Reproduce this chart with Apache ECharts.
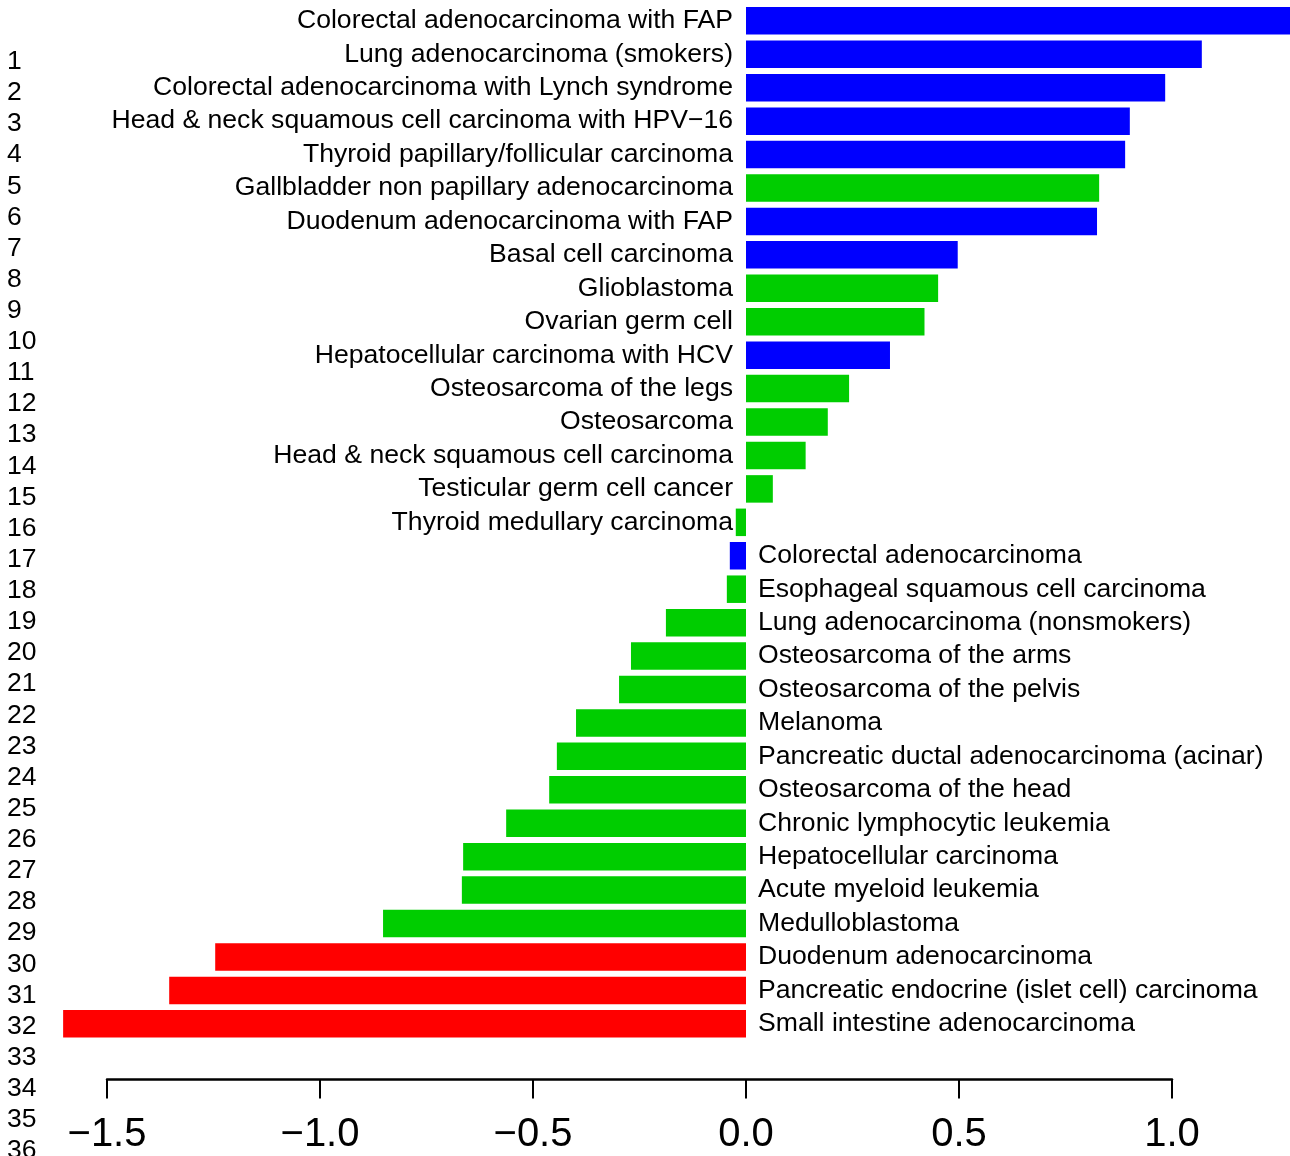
<!DOCTYPE html>
<html>
<head>
<meta charset="utf-8">
<script src="https://cdn.jsdelivr.net/npm/echarts@6/dist/echarts.min.js"></script>
<style>
html,body{margin:0;padding:0;background:#fff;}
#chart{width:1290px;height:1156px;}
</style>
</head>
<body>
<div id="chart"></div>
<script>
const categories = [
  "Colorectal adenocarcinoma with FAP",
  "Lung adenocarcinoma (smokers)",
  "Colorectal adenocarcinoma with Lynch syndrome",
  "Head & neck squamous cell carcinoma with HPV\u221216",
  "Thyroid papillary/follicular carcinoma",
  "Gallbladder non papillary adenocarcinoma",
  "Duodenum adenocarcinoma with FAP",
  "Basal cell carcinoma",
  "Glioblastoma",
  "Ovarian germ cell",
  "Hepatocellular carcinoma with HCV",
  "Osteosarcoma of the legs",
  "Osteosarcoma",
  "Head & neck squamous cell carcinoma",
  "Testicular germ cell cancer",
  "Thyroid medullary carcinoma",
  "Colorectal adenocarcinoma",
  "Esophageal squamous cell carcinoma",
  "Lung adenocarcinoma (nonsmokers)",
  "Osteosarcoma of the arms",
  "Osteosarcoma of the pelvis",
  "Melanoma",
  "Pancreatic ductal adenocarcinoma (acinar)",
  "Osteosarcoma of the head",
  "Chronic lymphocytic leukemia",
  "Hepatocellular carcinoma",
  "Acute myeloid leukemia",
  "Medulloblastoma",
  "Duodenum adenocarcinoma",
  "Pancreatic endocrine (islet cell) carcinoma",
  "Small intestine adenocarcinoma"
];
const values = [
  1.29, 1.070, 0.984, 0.901, 0.890, 0.829, 0.824, 0.497, 0.451, 0.419,
  0.338, 0.242, 0.192, 0.140, 0.063, -0.024, -0.038, -0.045, -0.188, -0.270,
  -0.298, -0.399, -0.444, -0.462, -0.563, -0.664, -0.667, -0.852, -1.246, -1.354,
  -1.603
];
const groups = [
  "B","B","B","B","B","G","B","B","G","G",
  "B","G","G","G","G","G","B","G","G","G",
  "G","G","G","G","G","G","G","G","R","R",
  "R"
];
const leftLabelCount = 16;
const rowNumbers = ["1","2","3","4","5","6","7","8","9","10","11","12","13","14","15","16","17","18",
  "19","20","21","22","23","24","25","26","27","28","29","30","31","32","33","34","35","36"];
const xTicks = [-1.5, -1.0, -0.5, 0.0, 0.5, 1.0];

const groupColors = {B: "#0000FF", G: "#00CD00", R: "#FF0000"};
const FONT = "Liberation Sans, Arial, Helvetica, sans-serif";

const chart = echarts.init(document.getElementById("chart"), null, {renderer: "canvas"});

const pxPerUnit = 426, zeroX = 746, W = 1290;
const labelStyle = {fontSize: 26.6, fontFamily: FONT, color: "#000"};
const option = {
  animation: false,
  backgroundColor: "#fff",
  grid: [
    {left: 0, right: 0, top: 4.13, height: 1036.4, containLabel: false, outerBoundsMode: "none"},
    {left: 107, width: 1065, top: 1000, height: 79.5, containLabel: false, outerBoundsMode: "none"},
    {left: 100, width: 10, top: 61.7, height: 1089.3, containLabel: false, outerBoundsMode: "none"}
  ],
  xAxis: [
    {gridIndex: 0, type: "value", min: -zeroX / pxPerUnit, max: (W - zeroX) / pxPerUnit,
     show: false, splitLine: {show: false}},
    {gridIndex: 1, type: "value", min: xTicks[0], max: xTicks[xTicks.length - 1], interval: 0.5,
     axisLine: {show: true, lineStyle: {color: "#000", width: 2.5}},
     axisTick: {show: true, length: 19, lineStyle: {color: "#000", width: 2}},
     splitLine: {show: false},
     axisLabel: {fontSize: 40, fontFamily: FONT, color: "#000", margin: 35,
       formatter: v => (v < 0 ? "\u2212" : "") + Math.abs(v).toFixed(1)}},
    {gridIndex: 2, type: "value", show: false}
  ],
  yAxis: [
    {gridIndex: 0, type: "category", data: categories, inverse: true, position: "left",
     offset: -zeroX,
     axisLine: {show: false}, axisTick: {show: false}, splitLine: {show: false},
     axisLabel: Object.assign({interval: 0, margin: 13,
       formatter: (v, i) => i < leftLabelCount ? v : ""}, labelStyle)},
    {gridIndex: 1, type: "value", show: false},
    {gridIndex: 2, type: "category", data: rowNumbers, inverse: true, boundaryGap: false,
     axisLine: {show: false}, axisTick: {show: false}, splitLine: {show: false},
     axisLabel: {show: true, interval: 0, align: "left", margin: 93, fontSize: 26.5,
       fontFamily: FONT, color: "#000"}},
    {gridIndex: 0, type: "category", data: categories, inverse: true, position: "right",
     offset: -(W - zeroX),
     axisLine: {show: false}, axisTick: {show: false}, splitLine: {show: false},
     axisLabel: Object.assign({interval: 0, margin: 12,
       formatter: (v, i) => i >= leftLabelCount ? v : ""}, labelStyle)}
  ],
  series: [
    {
      type: "bar", xAxisIndex: 0, yAxisIndex: 0, barWidth: 27.5,
      data: values.map((v, i) => ({value: v, itemStyle: {color: groupColors[groups[i]]}})),
      label: {show: false}
    }
  ]
};
chart.setOption(option);
</script>
</body>
</html>
